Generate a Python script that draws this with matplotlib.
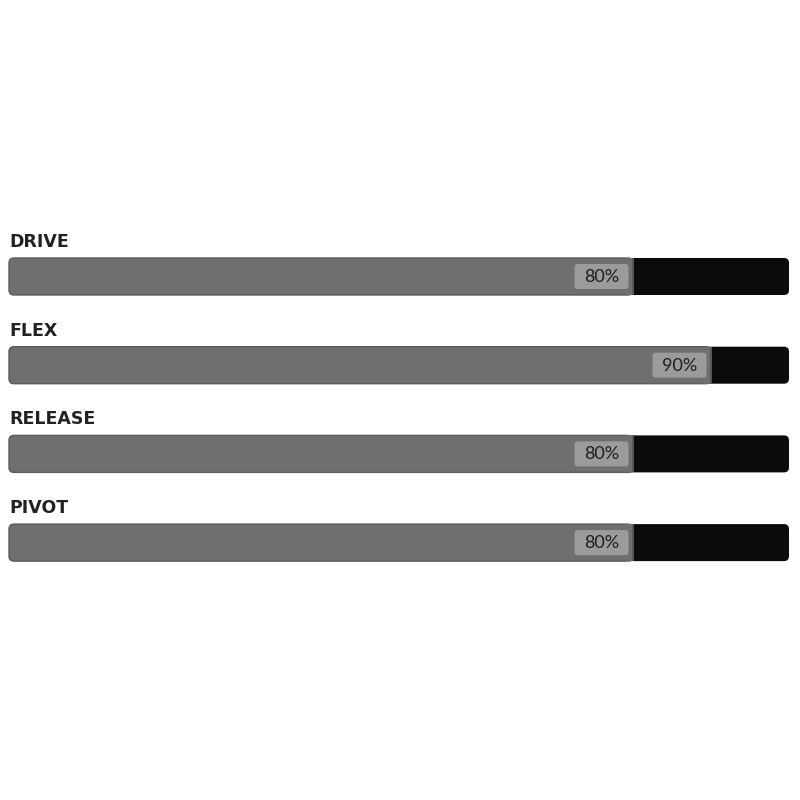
import matplotlib.pyplot as plt
from matplotlib.patches import FancyBboxPatch, Rectangle

# Datos ---------------------------------------------------------------
categorias = ['DRIVE', 'FLEX', 'RELEASE', 'PIVOT']
valores = [80, 90, 80, 80]
etiquetas = ['80%', '90%', '80%', '80%']

# Layout (pixeles en y, porcentaje en x)
px_por_unidad = 7.8
y_primera = 258
paso = 88.7
alto = 37
radio = 5

fig = plt.figure(figsize=(8, 8), dpi=100)
fig.patch.set_facecolor('white')
ax = fig.add_axes([0, 0, 1, 1])
ax.set_xlim(-9 / px_por_unidad, 791 / px_por_unidad)
ax.set_ylim(800, 0)
ax.axis('off')

asp = px_por_unidad  # para redondear igual en x e y

def caja(x, y, w, h, color, ec='none', lw=0, r=radio, z=1):
	p = FancyBboxPatch((x, y), w, h,
		boxstyle=f'round,pad=0,rounding_size={r / px_por_unidad}',
		mutation_aspect=asp, fc=color, ec=ec, lw=lw, zorder=z)
	ax.add_patch(p)
	return p

for i, (cat, v, lab) in enumerate(zip(categorias, valores, etiquetas)):
	top = y_primera + i * paso
	# pista negra
	caja(0, top, 100, alto, '#0b0b0b', z=1)
	# relleno gris
	caja(0, top, v, alto, '#6f6f6f', ec='#5c5c5c', lw=1.0, z=2)
	ax.add_patch(Rectangle((v - 1, top), 1, alto, fc='#6f6f6f', ec='none', zorder=3))
	ax.plot([v, v], [top + 1, top + alto - 1], color='#585858', lw=1.4, zorder=3)
	# caja de la etiqueta
	w_caja = 54 / px_por_unidad
	x_caja = v - 4.5 / px_por_unidad - w_caja
	caja(x_caja, top + 6, w_caja, alto - 12, '#9b9b9b', r=3, z=4)
	ax.text(x_caja + w_caja / 2, top + alto / 2 + 0.5, lab, ha='center', va='center',
		fontsize=13, family='Lato', color='#1e1e1e', zorder=5)
	# titulo
	ax.text(0.1, top - 11, cat, ha='left', va='baseline', fontsize=12.5,
		fontweight='bold', family='DejaVu Sans', color='#222222')

fig.savefig('out.png', dpi=100, facecolor='white')
